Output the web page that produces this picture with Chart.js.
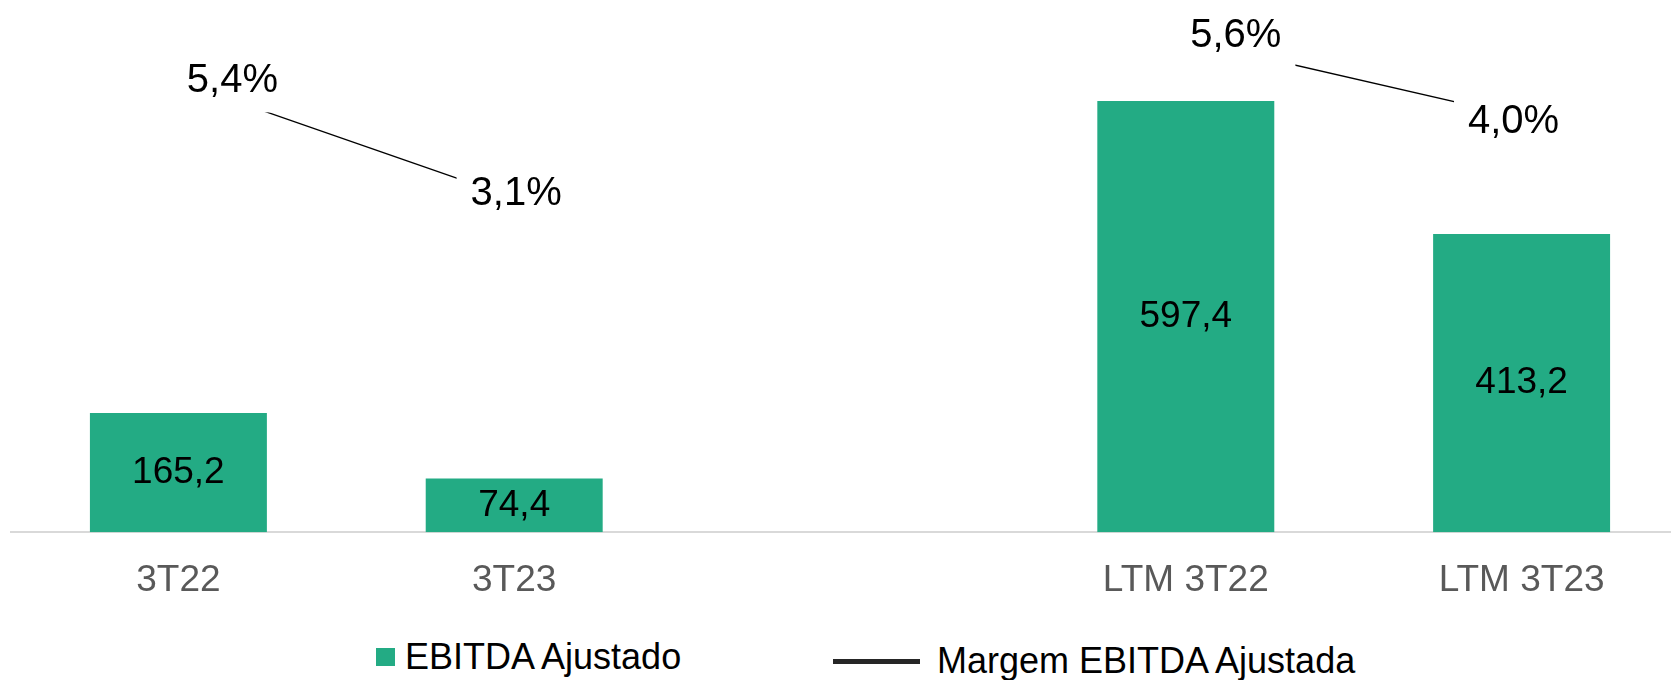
<!DOCTYPE html>
<html>
<head>
<meta charset="utf-8">
<script src="https://cdn.jsdelivr.net/npm/chart.js@4/dist/chart.umd.min.js"></script>
<style>
html, body { margin: 0; padding: 0; background: #fff; overflow: hidden; width: 1671px; height: 680px; }
#wrap { position: absolute; left: 0; top: 0; width: 1700px; height: 620px; }
.lg { position: absolute; font-family: "Liberation Sans", Arial, sans-serif; font-size: 36px; line-height: 36px; color: #000; white-space: nowrap; }
</style>
</head>
<body>
<div id="wrap"><canvas id="myChart" width="1700" height="620"></canvas></div>
<div class="lg" style="left:376px;top:648px;width:19px;height:18px;background:#23AB84"></div>
<div class="lg" style="left:405px;top:639px">EBITDA Ajustado</div>
<div class="lg" style="left:833px;top:659px;width:87px;height:5px;background:#262626"></div>
<div class="lg" style="left:937px;top:643px">Margem EBITDA Ajustada</div>
<script>
// Dados
var categorias = ['3T22', '3T23', '', 'LTM 3T22', 'LTM 3T23'];
var ebitdaAjustado = [165.2, 74.4, null, 597.4, 413.2];
var margemTrimestre = [5.4, 3.1, null, null, null];
var margemLTM = [null, null, null, 5.6, 4.0];

var fonte = '"Liberation Sans", Arial, sans-serif';

function fmt(v) {
    return v.toFixed(1).replace('.', ',');
}

// deslocamento dos rótulos de margem (como no original)
var desloc = [[54, 0], [2, -4], [0, 0], [50, -4], [-8, 5]];

var rotulos = {
    id: 'rotulos',
    afterDatasetsDraw: function (chart) {
        var ctx = chart.ctx;
        ctx.save();
        ctx.textAlign = 'center';
        ctx.textBaseline = 'middle';

        // valores dentro das barras
        ctx.font = '37px ' + fonte;
        ctx.fillStyle = '#000';
        chart.getDatasetMeta(0).data.forEach(function (bar, i) {
            if (ebitdaAjustado[i] == null) return;
            ctx.fillText(fmt(ebitdaAjustado[i]), bar.x, (bar.y + bar.base) / 2);
        });

        // margens com fundo branco
        ctx.font = '40px ' + fonte;
        [1, 2].forEach(function (d) {
            var dados = chart.data.datasets[d].data;
            chart.getDatasetMeta(d).data.forEach(function (pt, i) {
                if (dados[i] == null) return;
                var txt = fmt(dados[i]) + '%';
                var cx = pt.x + desloc[i][0];
                var cy = pt.y + desloc[i][1];
                var w = ctx.measureText(txt).width;
                ctx.fillStyle = '#fff';
                ctx.fillRect(cx - w / 2 - 14, cy - 15 - 16, w + 28, 30 + 32);
                ctx.fillStyle = '#000';
                ctx.fillText(txt, cx, cy);
            });
        });
        ctx.restore();
    }
};

var ctx = document.getElementById('myChart').getContext('2d');

var myChart = new Chart(ctx, {
    type: 'bar',
    data: {
        labels: categorias,
        datasets: [{
            label: 'EBITDA Ajustado',
            data: ebitdaAjustado,
            backgroundColor: '#23AB84',
            barPercentage: 0.527,
            categoryPercentage: 1,
            yAxisID: 'y',
            order: 2
        }, {
            type: 'line',
            label: 'Margem EBITDA Ajustada',
            data: margemTrimestre,
            borderColor: '#000',
            borderWidth: 1.3,
            pointRadius: 0,
            spanGaps: false,
            yAxisID: 'y2',
            order: 1
        }, {
            type: 'line',
            label: 'Margem EBITDA Ajustada LTM',
            data: margemLTM,
            borderColor: '#000',
            borderWidth: 1.3,
            pointRadius: 0,
            spanGaps: false,
            yAxisID: 'y3',
            order: 1
        }]
    },
    options: {
        responsive: false,
        animation: false,
        devicePixelRatio: 1,
        layout: { padding: { top: 26.9, left: 10.5, right: 10.5, bottom: 0 } },
        plugins: {
            legend: { display: false },
            tooltip: { enabled: false }
        },
        scales: {
            x: {
                grid: { display: false, drawTicks: false },
                border: { display: true, color: '#D9D9D9', width: 2 },
                ticks: {
                    color: '#595959',
                    font: { size: 37, family: fonte },
                    padding: 26,
                    maxRotation: 0,
                    autoSkip: false
                },
                afterFit: function (s) { s.height = 87.7; }
            },
            y: { display: false, min: 0, max: 700 },
            y2: { display: false, min: -3.493, max: 6.475 },
            y3: { display: false, min: -4.603, max: 5.8715 }
        }
    },
    plugins: [rotulos]
});
</script>
</body>
</html>
